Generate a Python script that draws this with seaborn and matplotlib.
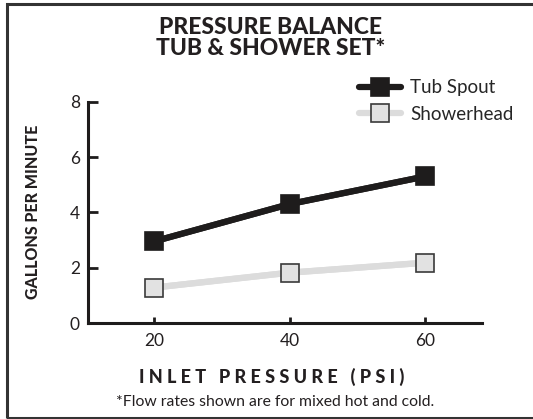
import matplotlib
matplotlib.use("Agg")
import matplotlib.pyplot as plt
import seaborn as sns
import pandas as pd
from matplotlib.patches import Rectangle

# Daten
pressure = [20, 40, 60]
tub_spout = [2.95, 4.3, 5.3]
showerhead = [1.28, 1.82, 2.18]
series_names = ["Tub Spout", "Showerhead"]

df = pd.DataFrame({
    "psi": pressure * 2,
    "gpm": tub_spout + showerhead,
    "series": [series_names[0]] * 3 + [series_names[1]] * 3,
})

sns.set_style("ticks")
plt.rcParams["font.family"] = ["Lato", "DejaVu Sans"]

fig = plt.figure(figsize=(5.33, 4.19), dpi=100)
ax = fig.add_axes([88.3 / 533, 1 - 323 / 419, (481.7 - 88.3) / 533, (323 - 101.7) / 419])

line_colors = {"Tub Spout": "#1e1c1c", "Showerhead": "#dcdcdc"}
sns.lineplot(data=df, x="psi", y="gpm", hue="series", palette=line_colors,
             linewidth=4.5, ax=ax, legend=False)

# Marker drüber
styles = {
    "Tub Spout": dict(mfc="#1e1c1c", mec="#1e1c1c"),
    "Showerhead": dict(mfc="#e2e2e2", mec="#3a3a3a"),
}
handles = []
for name, vals in [("Tub Spout", tub_spout), ("Showerhead", showerhead)]:
    h, = ax.plot(pressure, vals, color=line_colors[name], lw=4.5, marker="s",
                 ms=12.5, mew=1.2, label=name, clip_on=False, **styles[name])
    handles.append(h)

ax.set_xlim(10.3, 68.3)
ax.set_ylim(0, 8)
ax.set_xticks(pressure)
ax.set_yticks([0, 2, 4, 6, 8])
sns.despine(ax=ax)
for s in ["left", "bottom"]:
    ax.spines[s].set_linewidth(2.2)
    ax.spines[s].set_color("#1e1c1c")
ax.tick_params(axis="y", direction="in", length=7, width=2, color="#1e1c1c",
               labelsize=12.5, labelcolor="#231f20", pad=6)
ax.tick_params(axis="x", direction="in", length=4.5, width=2, color="#1e1c1c",
               labelsize=12.5, labelcolor="#231f20", pad=7)
ax.set_xlabel("")
ax.set_ylabel("")

leg = fig.legend(handles=handles, loc="upper left", bbox_to_anchor=(350 / 533, 1 - 70 / 419),
                 frameon=False, fontsize=13.5, handlelength=2.2, handletextpad=0.5,
                 labelspacing=0.5, borderpad=0)

fig.text(0.508, 1 - 38 / 419, "PRESSURE BALANCE\nTUB & SHOWER SET*", ha="center", va="center",
         fontsize=16.5, fontweight="black", color="#231f20", linespacing=1.05)
fig.text(33 / 533, 1 - 212 / 419, "GALLONS PER MINUTE", rotation=90, ha="center", va="center",
         fontsize=11.5, fontweight="black", color="#231f20")
fig.text(272 / 533, 1 - 377 / 419, "I N L E T   P R E S S U R E   ( P S I )", ha="center",
         va="center", fontsize=13, fontweight="black", color="#231f20")
fig.text(275 / 533, 1 - 402 / 419, "*Flow rates shown are for mixed hot and cold.", ha="center",
         va="center", fontsize=11.3, color="#231f20")

# Rahmen
fig.patches.append(Rectangle((6.5 / 533, 1.5 / 419), 1.1, 1 - 5.5 / 419, transform=fig.transFigure,
                             fill=False, edgecolor="#333333", linewidth=2.2))

fig.savefig("out.png", dpi=100)
